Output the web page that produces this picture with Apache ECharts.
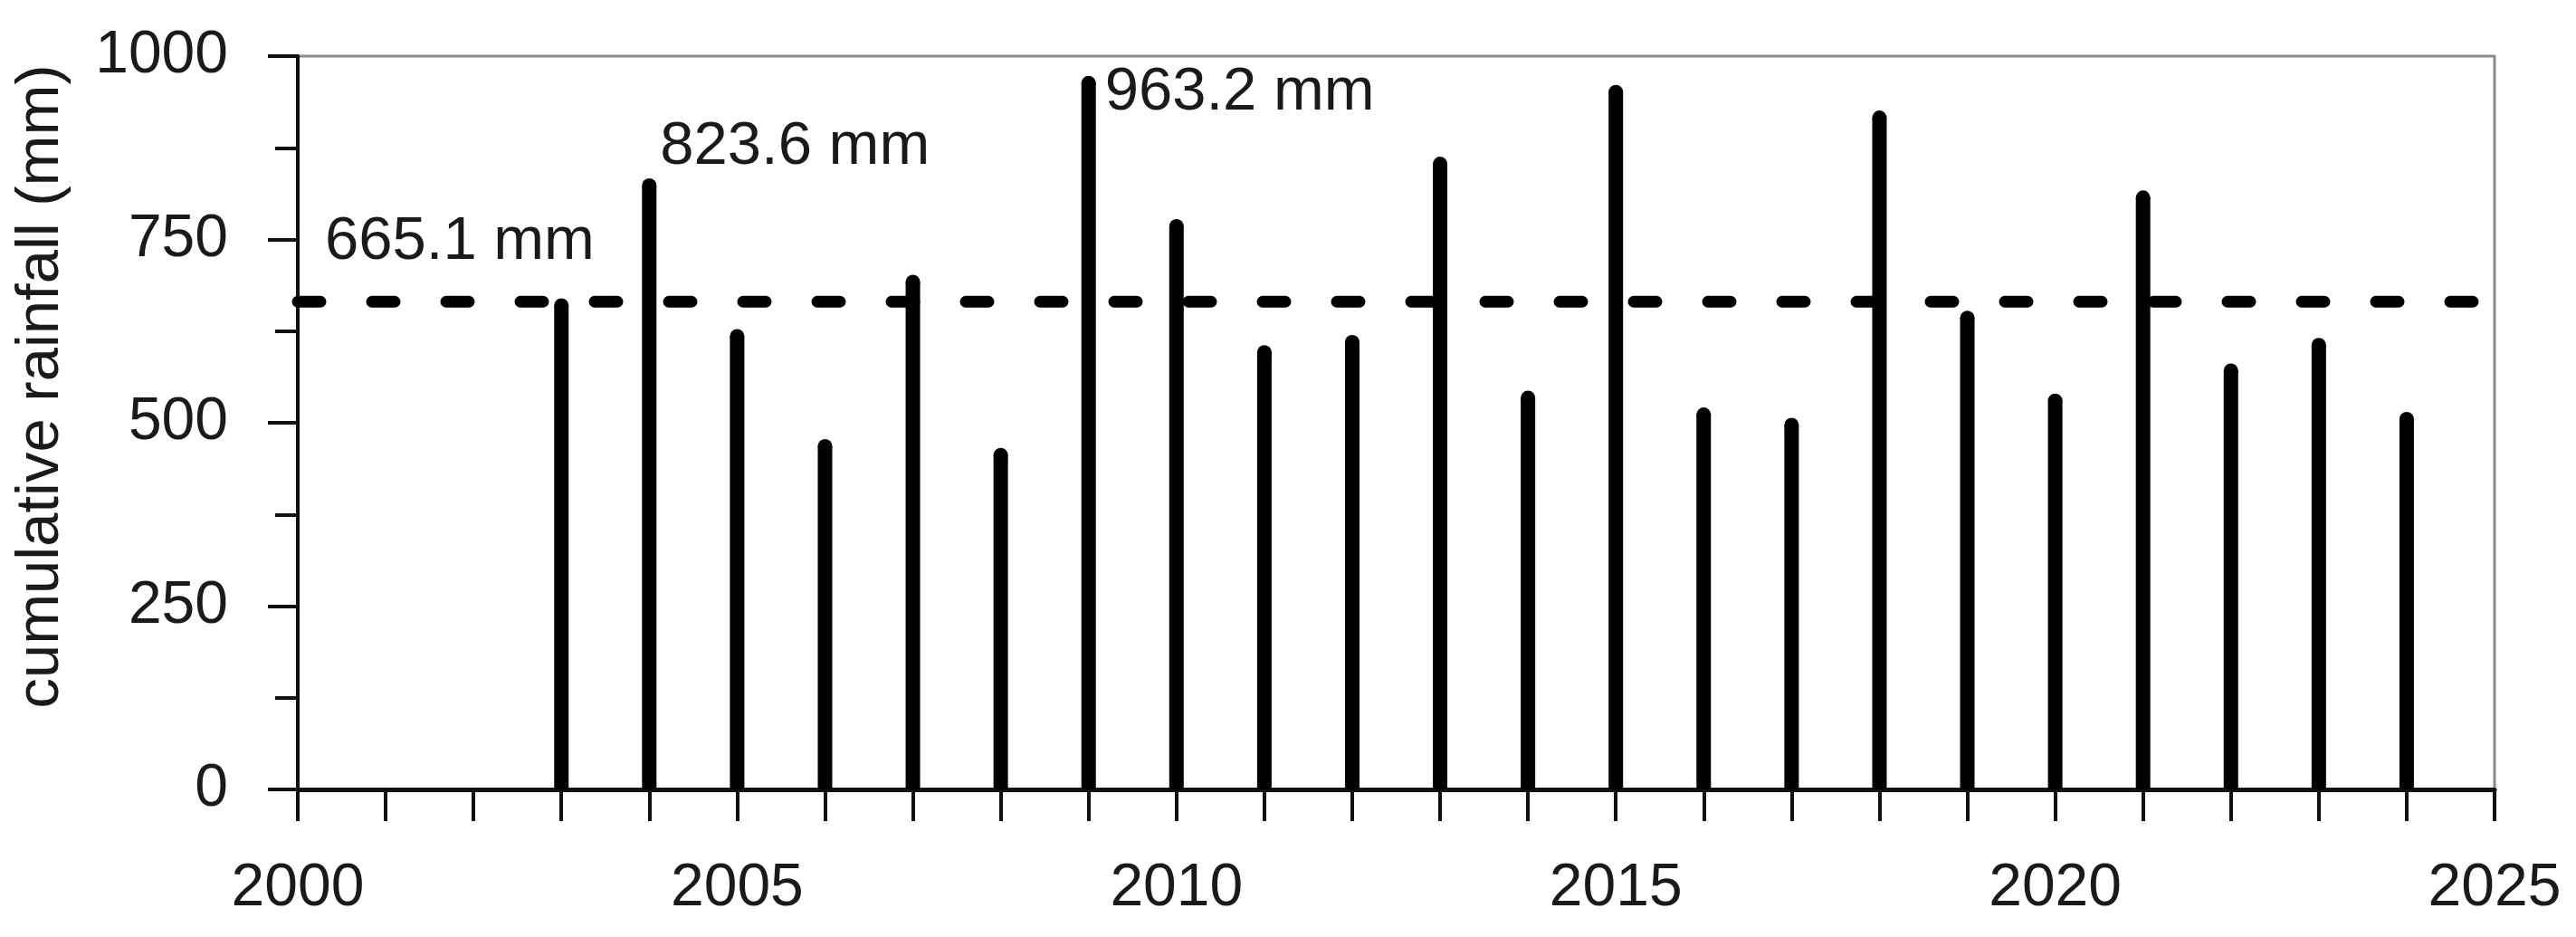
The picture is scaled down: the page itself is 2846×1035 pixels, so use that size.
<!DOCTYPE html>
<html>
<head>
<meta charset="utf-8">
<script src="https://cdn.jsdelivr.net/npm/echarts@6/dist/echarts.min.js"></script>
<style>
html,body{margin:0;padding:0;background:#fff;}
#chart{width:2846px;height:1035px;}
</style>
</head>
<body>
<div id="chart"></div>
<script>
// ---- data ----
const years = [2003, 2004, 2005, 2006, 2007, 2008, 2009, 2010, 2011, 2012, 2013,
               2014, 2015, 2016, 2017, 2018, 2019, 2020, 2021, 2022, 2023, 2024];
const rainfall = [660, 823.6, 618, 468, 692, 456, 963.2, 768, 596, 610, 853,
                  534, 951, 511, 497, 916, 643, 530, 807, 571, 606, 505];
const meanRainfall = 665.1;
const xTickLabels = ['2000', '2005', '2010', '2015', '2020', '2025'];
const yTickLabels = ['0', '250', '500', '750', '1000'];
const yAxisTitle = 'cumulative rainfall (mm)';
const annotations = [
  { year: 2000, value: 665.1, text: '665.1 mm' },
  { year: 2004, value: 823.6, text: '823.6 mm' },
  { year: 2009, value: 963.2, text: '963.2 mm' }
];

// ---- chart ----
const FONT = '"Liberation Sans", Arial, sans-serif';
const TXT = '#1a1a1a';
const annoOffsets = [[30, -66], [12, -42], [18, 11]];

const chart = echarts.init(document.getElementById('chart'), null, { renderer: 'canvas' });

const option = {
  animation: false,
  backgroundColor: '#fff',
  grid: {
    left: 329, right: 90, top: 62, bottom: 163,
    show: true, borderColor: '#8a8a8a', borderWidth: 3, backgroundColor: 'transparent'
  },
  xAxis: {
    type: 'value', min: 2000, max: 2025, interval: 5,
    axisLine: { show: true, onZero: false, lineStyle: { color: '#111', width: 5 } },
    axisTick: { show: true, length: 35, lineStyle: { color: '#111', width: 4 } },
    minorTick: { show: true, splitNumber: 5, length: 35, lineStyle: { color: '#111', width: 4 } },
    splitLine: { show: false },
    axisLabel: {
      margin: 77, fontSize: 66, fontFamily: FONT, color: TXT,
      formatter: v => xTickLabels[Math.round((v - 2000) / 5)]
    }
  },
  yAxis: {
    type: 'value', min: 0, max: 1000, interval: 250,
    name: yAxisTitle, nameLocation: 'middle', nameGap: 250, nameRotate: 90,
    nameTextStyle: { fontSize: 67, fontFamily: FONT, color: TXT, padding: [0, 0, 0, 80] },
    axisLine: { show: true, lineStyle: { color: '#111', width: 4 } },
    axisTick: { show: true, length: 33, lineStyle: { color: '#111', width: 4 } },
    minorTick: { show: true, splitNumber: 2, length: 25, lineStyle: { color: '#111', width: 4 } },
    splitLine: { show: false },
    axisLabel: {
      margin: 77, fontSize: 66, fontFamily: FONT, color: TXT,
      formatter: v => yTickLabels[Math.round(v / 250)]
    }
  },
  series: [
    {
      type: 'line',
      data: [[2000, meanRainfall], [2025, meanRainfall]],
      symbol: 'none', silent: true, z: 2,
      lineStyle: { color: '#000', width: 13, type: [25, 57], cap: 'round' }
    },
    {
      type: 'custom', z: 3, silent: true,
      data: years.map((y, i) => [y, rainfall[i]]),
      renderItem: function (params, api) {
        const x = api.value(0), v = api.value(1);
        const p0 = api.coord([x, 0]);
        const p1 = api.coord([x, v]);
        const w = 16;
        return {
          type: 'group',
          children: [
            { type: 'line', shape: { x1: p0[0], y1: p0[1], x2: p1[0], y2: p1[1] },
              style: { stroke: '#000', lineWidth: w, lineCap: 'butt' } },
            { type: 'circle', shape: { cx: p1[0], cy: p1[1], r: w / 2 },
              style: { fill: '#000' } }
          ]
        };
      }
    },
    {
      type: 'custom', z: 4, silent: true, clip: false,
      data: annotations.map(a => [a.year, a.value, a.text]),
      renderItem: function (params, api) {
        const p = api.coord([api.value(0), api.value(1)]);
        const off = annoOffsets[params.dataIndex];
        return {
          type: 'text',
          x: p[0] + off[0], y: p[1] + off[1],
          style: {
            text: annotations[params.dataIndex].text,
            fontSize: 67, fontFamily: FONT, fill: TXT,
            textAlign: 'left', textVerticalAlign: 'middle'
          }
        };
      }
    }
  ]
};
chart.setOption(option);
</script>
</body>
</html>
